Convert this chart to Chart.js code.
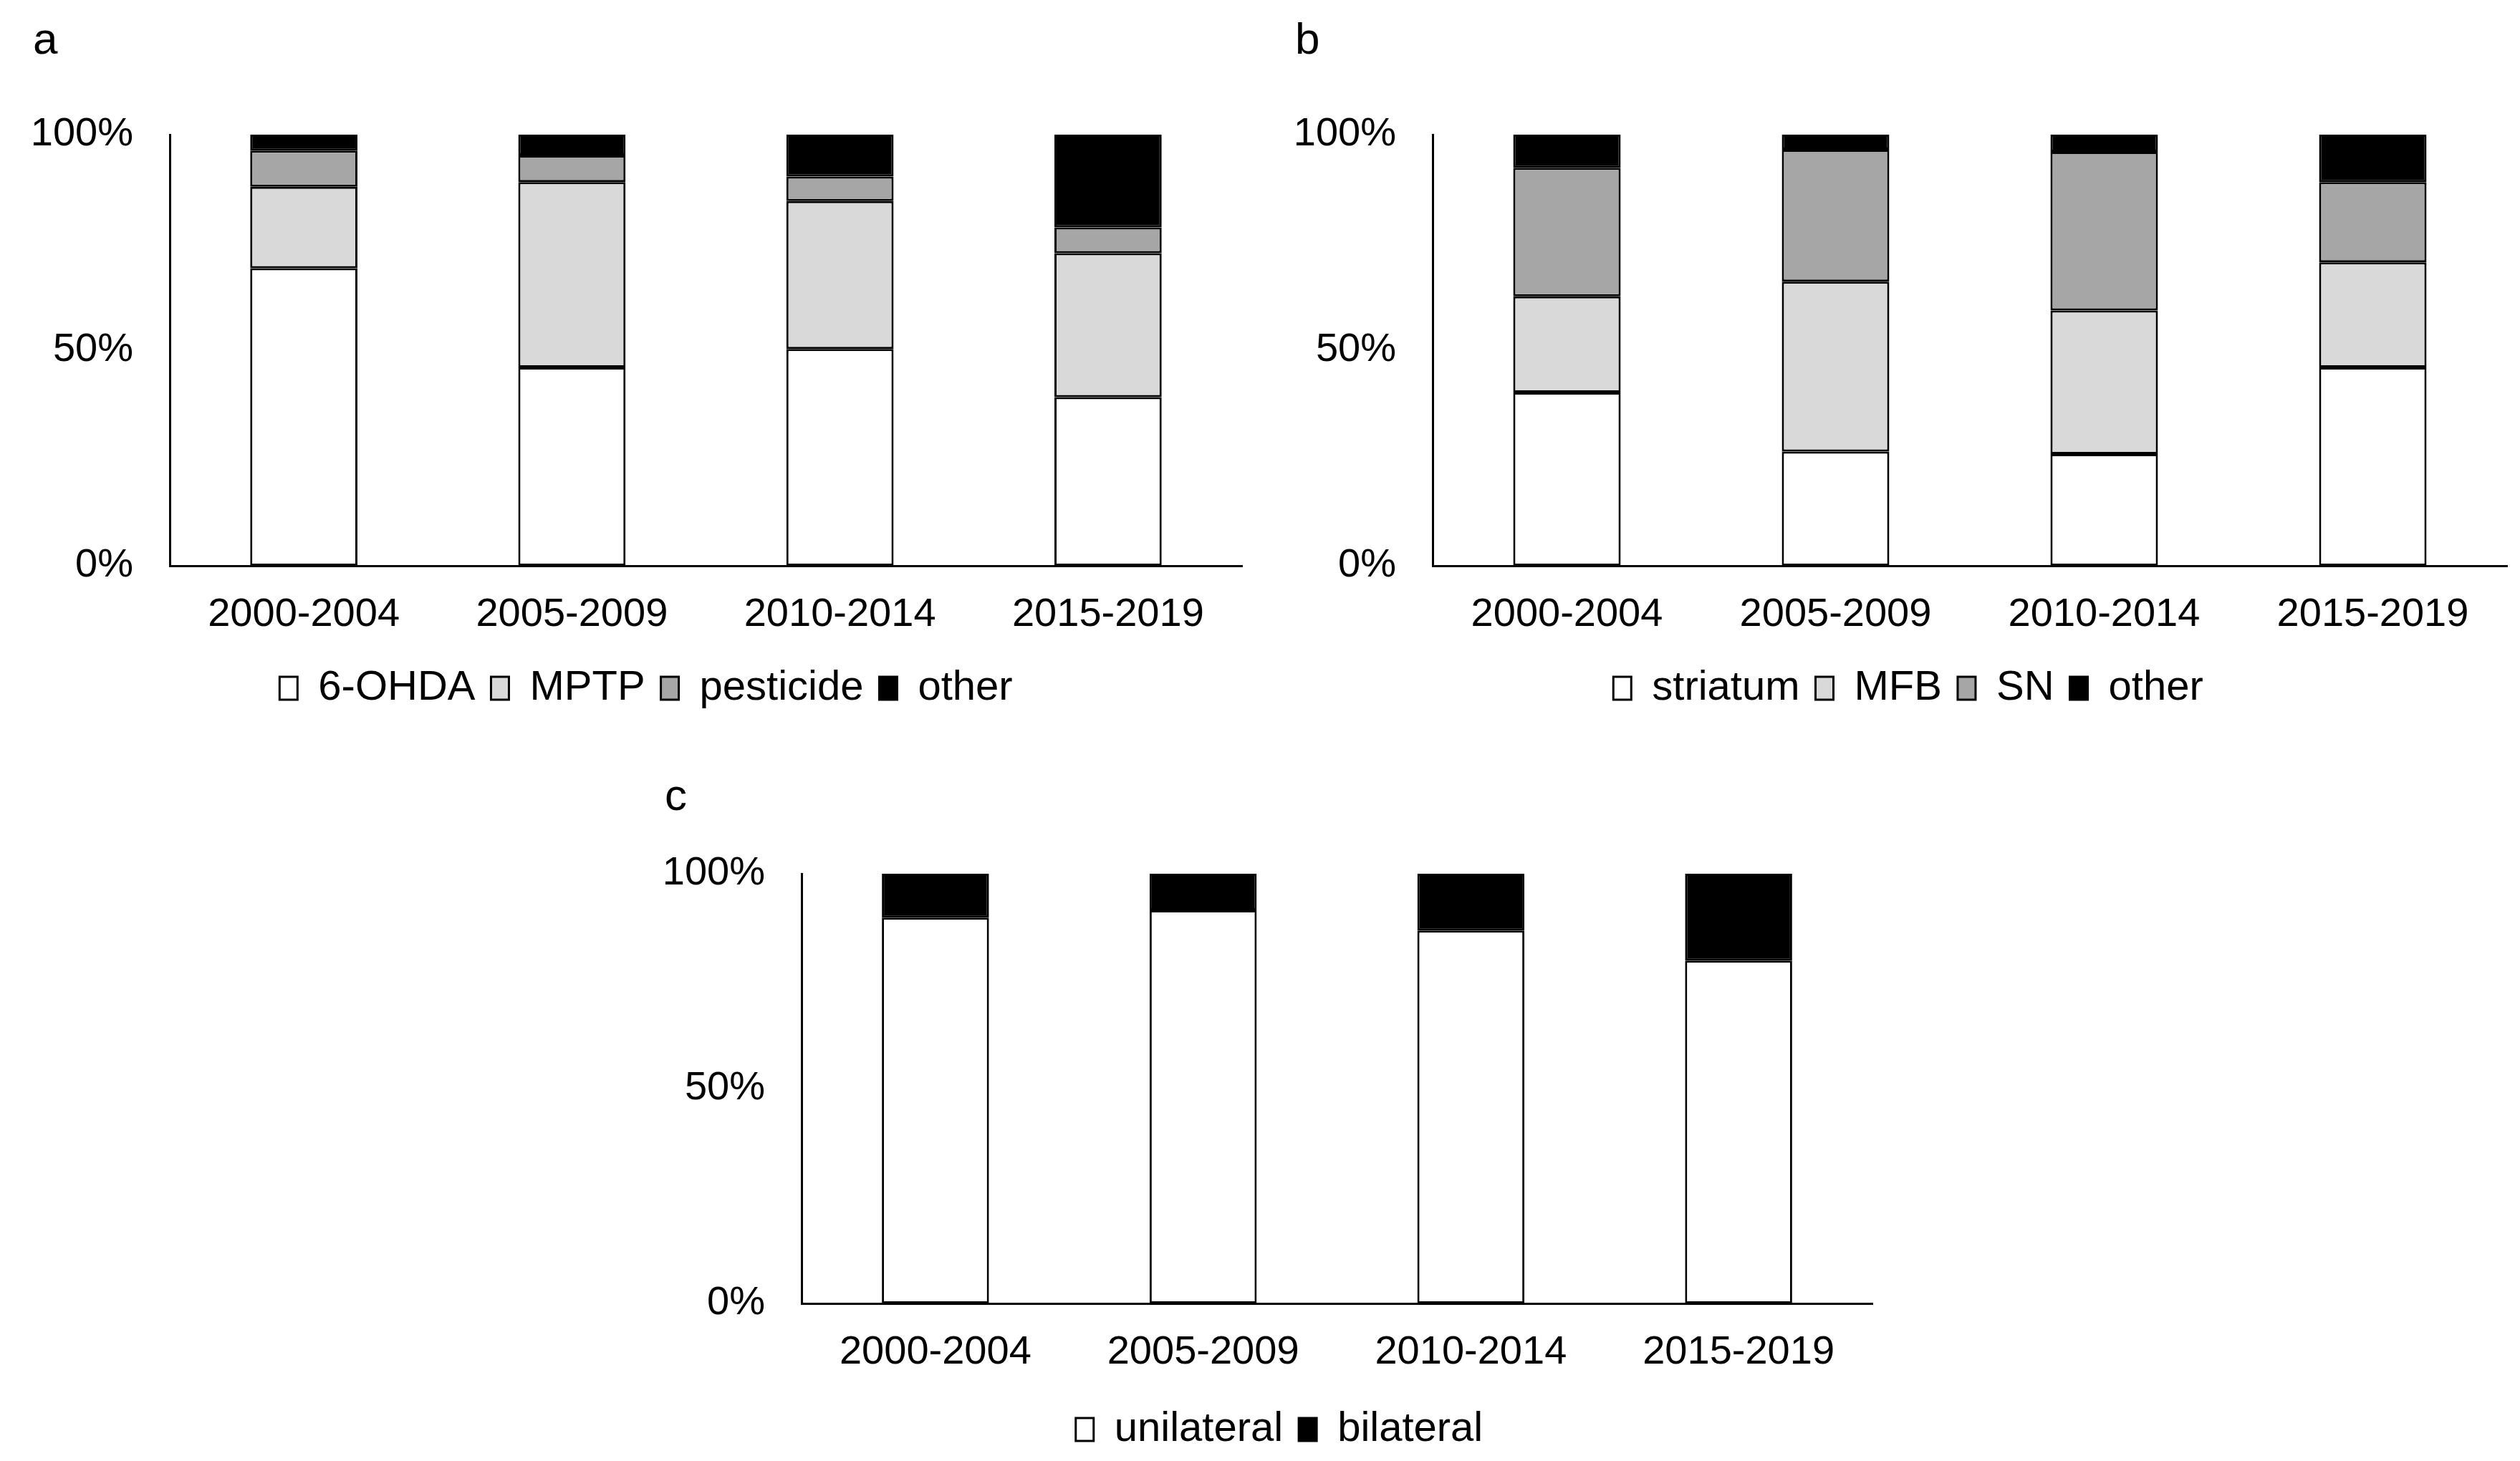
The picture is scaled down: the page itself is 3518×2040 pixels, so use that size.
<!DOCTYPE html>
<html>
<head>
<meta charset="utf-8">
<script src="https://cdn.jsdelivr.net/npm/chart.js@4"></script>
<style>
  body { margin: 0; background: #fff; width: 3518px; height: 2040px; position: relative; overflow: hidden; }
  canvas { position: absolute; }
  .tag { position: absolute; font-family: "Liberation Sans", Arial, sans-serif; font-size: 62px; color: #000; }
</style>
</head>
<body>
<div class="tag" style="left:46px; top:18px;">a</div>
<div class="tag" style="left:1808px; top:18px;">b</div>
<div class="tag" style="left:928px; top:1074px;">c</div>
<canvas id="chartA" width="1760" height="1000" style="left:0px; top:0px;"></canvas>
<canvas id="chartB" width="1758" height="1000" style="left:1760px; top:0px;"></canvas>
<canvas id="chartC" width="1800" height="1000" style="left:850px; top:1040px;"></canvas>
<script>
// periodos
var periods = ['2000-2004', '2005-2009', '2010-2014', '2015-2019'];
var yTicks = [0, 50, 100];

// panel a: toxina (%)
var ohda = [69.0, 46.0, 50.3, 39.1];
var mptp = [18.9, 43.0, 34.3, 33.4];
var pesticide = [8.4, 6.2, 5.7, 6.0];
var otherA = [3.7, 4.8, 9.7, 21.5];

// panel b: sitio de lesion (%)
var striatum = [40.2, 26.5, 25.9, 46.0];
var mfb = [22.3, 39.4, 33.3, 24.4];
var sn = [29.8, 30.6, 36.8, 18.6];
var otherB = [7.7, 3.5, 4.0, 11.0];

// panel c: lateralidad (%)
var unilateral = [89.8, 91.5, 86.8, 79.8];
var bilateral = [10.2, 8.5, 13.2, 20.2];

var fuente = 'Liberation Sans, Arial, sans-serif';

// desplaza la leyenda en horizontal despues del layout
var moverLeyenda = {
    id: 'moverLeyenda',
    afterLayout: function (chart, args, opts) {
        if (chart.legend) {
            chart.legend.left += opts.dx;
            chart.legend.right += opts.dx;
        }
    }
};

function serie(label, data, color) {
    return {
        label: label,
        data: data,
        backgroundColor: color,
        borderColor: '#000000',
        borderWidth: 3,
        borderSkipped: false,
        categoryPercentage: 1.0,
        barPercentage: 0.4
    };
}

// opciones comunes, con los margenes de cada panel
function opciones(p) {
    return {
        responsive: false,
        animation: false,
        devicePixelRatio: 1,
        layout: { padding: { left: 0, top: p.top, right: p.right, bottom: p.bottom } },
        plugins: {
            tooltip: { enabled: false },
            moverLeyenda: { dx: p.dx },
            legend: {
                position: 'bottom',
                labels: {
                    color: '#000',
                    font: { family: fuente, size: 58 },
                    boxWidth: 25,
                    boxHeight: 32,
                    padding: 22
                }
            }
        },
        scales: {
            x: {
                stacked: true,
                grid: { display: false, drawTicks: false },
                border: { display: true, color: '#000', width: 3 },
                ticks: { color: '#000', font: { family: fuente, size: 56 }, padding: 35, maxRotation: 0 },
                afterFit: function (s) { s.height = p.xh; }
            },
            y: {
                stacked: true,
                min: 0,
                max: 100,
                grid: { display: false, drawTicks: false },
                border: { display: true, color: '#000', width: 3 },
                afterBuildTicks: function (s) { s.ticks = yTicks.map(function (v) { return { value: v }; }); },
                ticks: {
                    color: '#000',
                    font: { family: fuente, size: 56 },
                    padding: 51,
                    callback: function (v) { return v + '%'; }
                },
                afterFit: function (s) { s.width = p.yw; }
            }
        }
    };
}

new Chart(document.getElementById('chartA').getContext('2d'), {
    type: 'bar',
    data: {
        labels: periods,
        datasets: [
            serie('6-OHDA', ohda, '#ffffff'),
            serie('MPTP', mptp, '#d9d9d9'),
            serie('pesticide', pesticide, '#a6a6a6'),
            serie('other', otherA, '#000000')
        ]
    },
    options: opciones({ top: 188, right: 26, bottom: 0, xh: 120, yw: 237, dx: 35 }),
    plugins: [moverLeyenda]
});

new Chart(document.getElementById('chartB').getContext('2d'), {
    type: 'bar',
    data: {
        labels: periods,
        datasets: [
            serie('striatum', striatum, '#ffffff'),
            serie('MFB', mfb, '#d9d9d9'),
            serie('SN', sn, '#a6a6a6'),
            serie('other', otherB, '#000000')
        ]
    },
    options: opciones({ top: 188, right: 18, bottom: 0, xh: 120, yw: 240, dx: 34 }),
    plugins: [moverLeyenda]
});

new Chart(document.getElementById('chartC').getContext('2d'), {
    type: 'bar',
    data: {
        labels: periods,
        datasets: [
            serie('unilateral', unilateral, '#ffffff'),
            serie('bilateral', bilateral, '#000000')
        ]
    },
    options: opciones({ top: 180, right: 36, bottom: 5, xh: 125, yw: 269, dx: 54 }),
    plugins: [moverLeyenda]
});
</script>
</body>
</html>
